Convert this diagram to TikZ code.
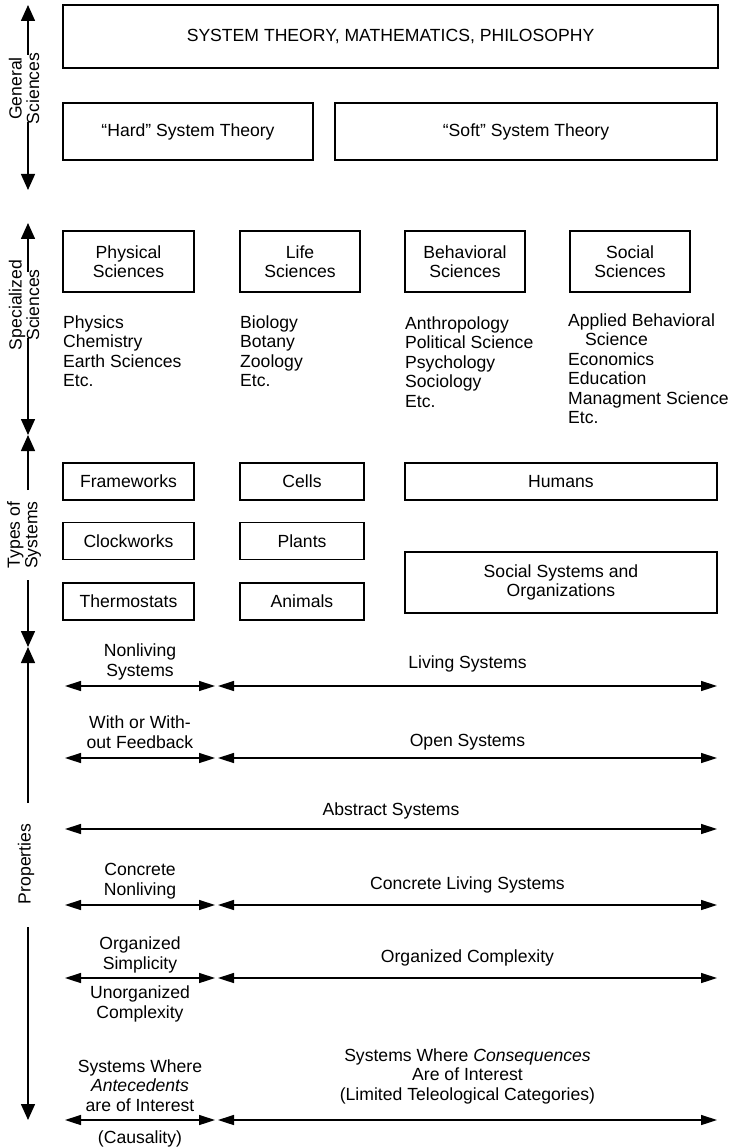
\documentclass[tikz,border=0pt]{standalone}
\usepackage{fontspec}
\setmainfont{Liberation Sans}
\usetikzlibrary{arrows.meta}
\newcommand\dfont{\fontsize{17.6}{19.5}\selectfont}
\begin{document}
\begin{tikzpicture}[x=1pt,y=-1pt,
  box/.style={draw, line width=1.5pt, inner sep=0pt, align=center, font=\dfont},
  lbl/.style={inner sep=0pt, align=center, font=\dfont, anchor=base},
  lst/.style={inner sep=0pt, font=\dfont, anchor=base west},
  rot/.style={inner sep=0pt, align=center, font=\fontsize{17.6}{17.5}\selectfont, rotate=90},
  vtip/.style={line width=1.5pt, -{Triangle[length=16pt,width=14pt]}},
  hdbl/.style={line width=1.5pt, {Triangle[length=16pt,width=10pt]}-{Triangle[length=16pt,width=10pt]}}
]
\useasboundingbox (0,0) rectangle (732,1147);

% ---- General sciences ----
\node[box, minimum width=655pt, minimum height=63pt] (top) at (390.5,36.5) {SYSTEM THEORY, MATHEMATICS, PHILOSOPHY};
\node[box, minimum width=250pt, minimum height=57pt] (hard) at (188,131.5) {``Hard'' System Theory};
\node[box, minimum width=382pt, minimum height=57pt] (soft) at (526,131.5) {``Soft'' System Theory};

% ---- Specialized sciences ----
\node[box, minimum width=131pt, minimum height=61pt] (phys) at (128.5,261.5) {Physical\\Sciences};
\node[box, minimum width=120pt, minimum height=61pt] (life) at (300,261.5) {Life\\Sciences};
\node[box, minimum width=120pt, minimum height=61pt] (behav) at (465,261.5) {Behavioral\\Sciences};
\node[box, minimum width=120pt, minimum height=61pt] (soc) at (630,261.5) {Social\\Sciences};

\foreach \t [count=\i] in {Physics,Chemistry,Earth Sciences,Etc.}
  \node[lst] (pl\i) at ({63},{328+(\i-1)*19.5}) {\t};
\foreach \t [count=\i] in {Biology,Botany,Zoology,Etc.}
  \node[lst] (ll\i) at ({240},{328+(\i-1)*19.5}) {\t};
\foreach \t [count=\i] in {Anthropology,Political Science,Psychology,Sociology,Etc.}
  \node[lst] (bl\i) at ({405},{329+(\i-1)*19.5}) {\t};
\node[lst] (sl1) at (568,326) {Applied Behavioral};
\node[lst] (sl2) at (585,345.5) {Science};
\foreach \t [count=\i from 3] in {Economics,Education,Managment Science,Etc.}
  \node[lst] (sl\i) at ({568},{326+(\i-1)*19.5}) {\t};

% ---- Types of systems ----
\node[box, minimum width=131pt, minimum height=37pt] (frame) at (128.5,481.5) {Frameworks};
\node[box, minimum width=131pt, minimum height=37pt] (clock) at (128.5,541) {Clockworks};
\node[box, minimum width=131pt, minimum height=37pt] (thermo) at (128.5,601.5) {Thermostats};
\node[box, minimum width=124pt, minimum height=37pt] (cells) at (302,481.5) {Cells};
\node[box, minimum width=124pt, minimum height=37pt] (plants) at (302,541) {Plants};
\node[box, minimum width=124pt, minimum height=37pt] (animals) at (302,601.5) {Animals};
\node[box, minimum width=312pt, minimum height=37pt] (humans) at (561,481.5) {Humans};
\node[box, minimum width=312pt, minimum height=61pt] (socsys) at (561,582.5) {Social Systems and\\Organizations};

% ---- Left axis ----
\coordinate (a1) at (28,55);  \coordinate (a0) at (28,5);
\coordinate (a2) at (28,122); \coordinate (a3) at (28,190);
\draw[vtip] (a1) -- (a0);
\draw[vtip] (a2) -- (a3);
\node[rot] (lgen) at (24,88.5) {General\\Sciences};

\coordinate (b1) at (28,272); \coordinate (b0) at (28,223);
\coordinate (b2) at (28,338); \coordinate (b3) at (28,435); \coordinate (b4) at (28,490);
\draw[vtip] (b1) -- (b0);
\draw[vtip] (b2) -- (b3);
\draw[vtip] (b4) -- (b3);
\node[rot] (lspec) at (24,305) {Specialized\\Sciences};

\coordinate (c1) at (28,580); \coordinate (c2) at (28,647); \coordinate (c3) at (28,803);
\draw[vtip] (c1) -- (c2);
\draw[vtip] (c3) -- (c2);
\node[rot] (ltypes) at (24,535) {Types of\\Systems};

\coordinate (d1) at (28,927); \coordinate (d2) at (28,1120);
\draw[vtip] (d1) -- (d2);
\node[rot] (lprop) at (26,864) {Properties};

% ---- Properties rows ----
\foreach \y [count=\i] in {686,758,905,978,1120} {
  \coordinate (L\i) at (65,\y); \coordinate (M\i) at (215,\y);
  \coordinate (N\i) at (218,\y); \coordinate (R\i) at (717,\y);
  \draw[hdbl] (L\i) -- (M\i);
  \draw[hdbl] (N\i) -- (R\i);
}
\coordinate (LA) at (65,829); \coordinate (RA) at (717,829);
\draw[hdbl] (LA) -- (RA);

% multi-line labels: base = baseline of last line
\node[lbl] (t1a) at (140,676) {Nonliving\\Systems};
\node[lbl] (t1b) at (467.5,668) {Living Systems};
\node[lbl] (t2a) at (140,748) {With or With-\\out Feedback};
\node[lbl] (t2b) at (467.5,746) {Open Systems};
\node[lbl] (t3) at (391,815) {Abstract Systems};
\node[lbl] (t4a) at (140,895) {Concrete\\Nonliving};
\node[lbl] (t4b) at (467.5,889) {Concrete Living Systems};
\node[lbl] (t5a) at (140,969) {Organized\\Simplicity};
\node[lbl] (t5b) at (467.5,962) {Organized Complexity};
\node[lbl] (t5c) at (140,1018) {Unorganized\\Complexity};
\node[lbl] (t6a) at (140,1111) {Systems Where\\\textit{Antecedents}\\are of Interest};
\node[lbl] (t6b) at (467.5,1100) {Systems Where \textit{Consequences}\\Are of Interest\\(Limited Teleological Categories)};
\node[lbl] (t6c) at (140,1143) {(Causality)};
\end{tikzpicture}
\end{document}
